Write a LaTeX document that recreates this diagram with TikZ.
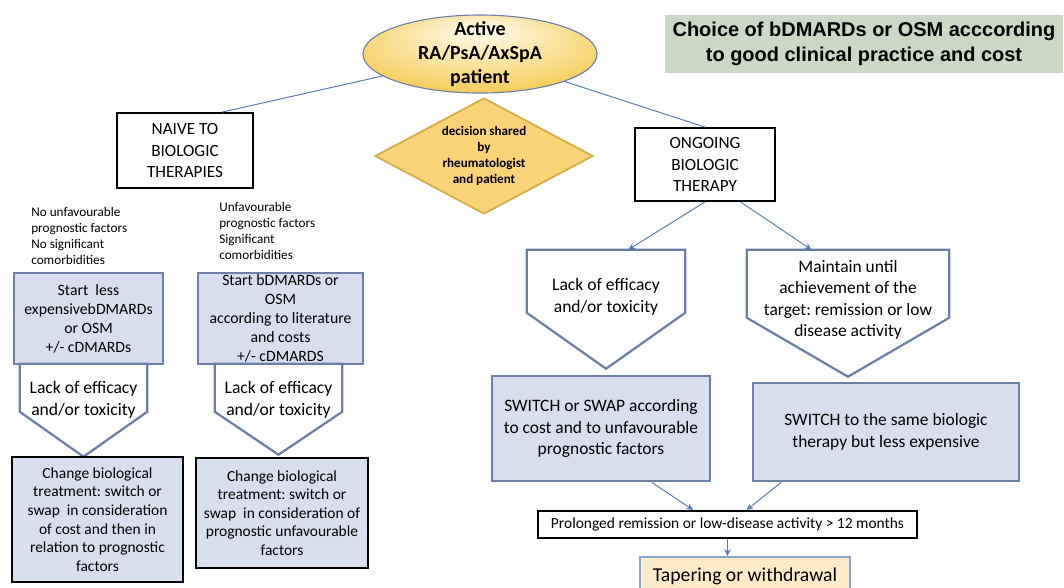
\documentclass[tikz,border=0pt]{standalone}
\usepackage{fontspec}
\setmainfont{Carlito}
\newfontfamily\titlefont{Liberation Sans}
\usetikzlibrary{arrows.meta,shapes.geometric,calc}
\definecolor{rxslate}{HTML}{6E7FA6}
\definecolor{rxfill}{HTML}{D9DEEE}
\definecolor{rxline}{HTML}{5B7BB5}
\definecolor{rxgold}{HTML}{F2BA1E}
\definecolor{rxpale}{HTML}{FFFDF0}
\definecolor{rxdiam}{HTML}{F9D377}
\definecolor{rxdiamb}{HTML}{D6AD4B}
\definecolor{rxsage}{HTML}{CBD8C6}
\definecolor{rxpeach}{HTML}{FDEBC9}
\definecolor{rxsky}{HTML}{8AA2CC}
\pgfdeclareradialshading{rxglow}{\pgfpoint{0bp}{16bp}}{%
  color(0bp)=(rxpale); color(22bp)=(rxpale!50!rxgold);
  color(42bp)=(rxgold); color(50bp)=(rxgold)}
\frenchspacing

\begin{document}
\begin{tikzpicture}[x=0.025cm,y=-0.025cm,
  plain/.style={draw=black,line width=1.3pt,fill=white,align=center,inner sep=0pt,
                font=\fontsize{12.2}{15.4}\selectfont},
  slab/.style={draw=rxslate,line width=1.9pt,fill=rxfill,align=center,inner sep=0pt},
  chg/.style={draw=black,line width=2pt,fill=rxfill,align=center,inner sep=0pt,
              font=\fontsize{11}{13.2}\selectfont},
  pent/.style={align=center,inner sep=0pt},
  pentline/.style={draw=rxslate,line width=1.6pt},
  note/.style={anchor=west,align=left,inner sep=0pt,font=\fontsize{9.4}{11.5}\selectfont},
  conn/.style={draw=rxline,line width=0.7pt},
  arr/.style={conn,-{Stealth[length=5pt,width=4.5pt]}}
]
\useasboundingbox (0,0) rectangle (1064,587);

% ---- Top ------------------------------------------------------
\node[ellipse,draw=rxslate,line width=0.8pt,shading=rxglow,
      minimum width=5.85cm,minimum height=1.95cm] (pat) at (480,54) {};
\node[font=\bfseries\fontsize{14.2}{17}\selectfont,align=center] (pattxt) at (pat)
  {Active\\RA/PsA/AxSpA\\patient};

\node[diamond,draw=rxdiamb,fill=rxdiam,line width=1.3pt,inner sep=0pt,
      minimum width=5.45cm,minimum height=2.9cm] (shared) at (484,156) {};
\node[font=\bfseries\fontsize{9.3}{11.4}\selectfont,align=center] (sharedtxt) at (shared)
  {decision shared\\by\\rheumatologist\\and patient};

\node[fill=rxsage,minimum width=9.95cm,minimum height=1.45cm,align=center,inner sep=0pt,
      font=\titlefont\bfseries\fontsize{14.2}{17.3}\selectfont] (title) at (864,44)
  {Choice of bDMARDs or OSM acccording\\to good clinical practice and cost};

\node[plain,minimum width=3.4cm,minimum height=1.875cm] (naive) at (185,150.5)
  {NAIVE TO\\BIOLOGIC\\THERAPIES};
\node[plain,minimum width=3.5cm,minimum height=1.825cm] (ongo) at (705,164.5)
  {ONGOING\\BIOLOGIC\\THERAPY};

\draw[conn] (pat) -- ($(naive.north west)!0.77!(naive.north east)$);
\draw[conn] (pat) -- (ongo.north);

% ---- Naive patients -------------------------------------------
\node[note] (noteL) at (31,236)
  {No unfavourable\\prognostic factors\\No significant\\comorbidities};
\node[note] (noteM) at (219,231)
  {Unfavourable\\prognostic factors\\Significant\\comorbidities};

\node[slab,minimum width=3.725cm,minimum height=2.275cm,font=\fontsize{11.2}{13.5}\selectfont]
  (startL) at (88.5,318.5) {Start\ \ less\\expensivebDMARDs\\or OSM\\+/- cDMARDs};
\node[slab,minimum width=4.125cm,minimum height=2.275cm,font=\fontsize{11.2}{13.5}\selectfont]
  (startM) at (280.5,318.5) {Start bDMARDs or\\OSM\\according to literature\\and costs\\+/- cDMARDS};

\node[pent,minimum width=3.175cm,minimum height=1.8cm,font=\fontsize{12.5}{15.3}\selectfont]
  (lackL) at (83.5,400) {Lack of efficacy\\and/or toxicity};
\draw[pentline] (lackL.north west) -- (lackL.north east) -- ++(0,48)
  -- ($(lackL.north)+(0,93)$) -- ($(lackL.north west)+(0,48)$) -- cycle;
\node[pent,minimum width=3.175cm,minimum height=1.8cm,font=\fontsize{12.5}{15.3}\selectfont]
  (lackM) at (278.5,400) {Lack of efficacy\\and/or toxicity};
\draw[pentline] (lackM.north west) -- (lackM.north east) -- ++(0,48)
  -- ($(lackM.north)+(0,91)$) -- ($(lackM.north west)+(0,48)$) -- cycle;

\node[chg,minimum width=4.275cm,minimum height=3.125cm] (chgL) at (97.5,519.5)
  {Change biological\\treatment: switch or\\swap\ \ in consideration\\of cost and then in\\relation to prognostic\\factors};
\node[chg,minimum width=4.3cm,minimum height=2.75cm] (chgM) at (282,513)
  {Change biological\\treatment: switch or\\swap\ \ in consideration of\\prognostic unfavourable\\factors};

% ---- Ongoing therapy ------------------------------------------
\node[pent,minimum width=3.95cm,minimum height=2.35cm,font=\fontsize{12.5}{15.3}\selectfont]
  (lackR) at (606,297) {Lack of efficacy\\and/or toxicity};
\draw[pentline] (lackR.north west) -- (lackR.north east) -- ++(0,63)
  -- ($(lackR.north)+(0,119)$) -- ($(lackR.north west)+(0,63)$) -- cycle;
\node[pent,minimum width=5.05cm,minimum height=2.5cm,font=\fontsize{12.4}{15.3}\selectfont]
  (maint) at (848,300) {Maintain until\\achievement of the\\target: remission or low\\disease activity};
\draw[pentline] (maint.north west) -- (maint.north east) -- ++(0,68)
  -- ($(maint.north)+(0,127)$) -- ($(maint.north west)+(0,68)$) -- cycle;

\draw[arr] (ongo.south) -- ($(lackR.north west)!0.64!(lackR.north east)$);
\draw[arr] ($(ongo.south west)!0.75!(ongo.south east)$) -- ($(maint.north west)!0.32!(maint.north east)$);

\node[slab,minimum width=5.45cm,minimum height=2.625cm,font=\fontsize{12.4}{15.3}\selectfont]
  (swapbox) at (601,428.5) {SWITCH or SWAP according\\to cost and to unfavourable\\prognostic factors};
\node[slab,minimum width=6.65cm,minimum height=2.45cm,font=\fontsize{12.4}{15.3}\selectfont]
  (samebox) at (886,432) {SWITCH to the same biologic\\therapy but less expensive};

\node[draw=black,line width=1.4pt,fill=white,inner sep=0pt,minimum width=9.475cm,
      minimum height=0.675cm,font=\fontsize{11}{13}\selectfont] (prol) at (727.5,524.5)
  {Prolonged remission or low-disease activity > 12 months};
\node[draw=rxsky,fill=rxpeach,line width=1.3pt,inner sep=0pt,minimum width=5.25cm,
      minimum height=0.95cm,font=\fontsize{14}{16.8}\selectfont] (taper) at (745,576)
  {Tapering or withdrawal};

\draw[arr] ($(swapbox.south west)!0.73!(swapbox.south east)$) -- ($(prol.north west)!0.41!(prol.north east)$);
\draw[arr] ($(samebox.south west)!0.11!(samebox.south east)$) -- ($(prol.north west)!0.55!(prol.north east)$);
\draw[arr] (prol) -- (prol |- taper.north);

\end{tikzpicture}
\end{document}
